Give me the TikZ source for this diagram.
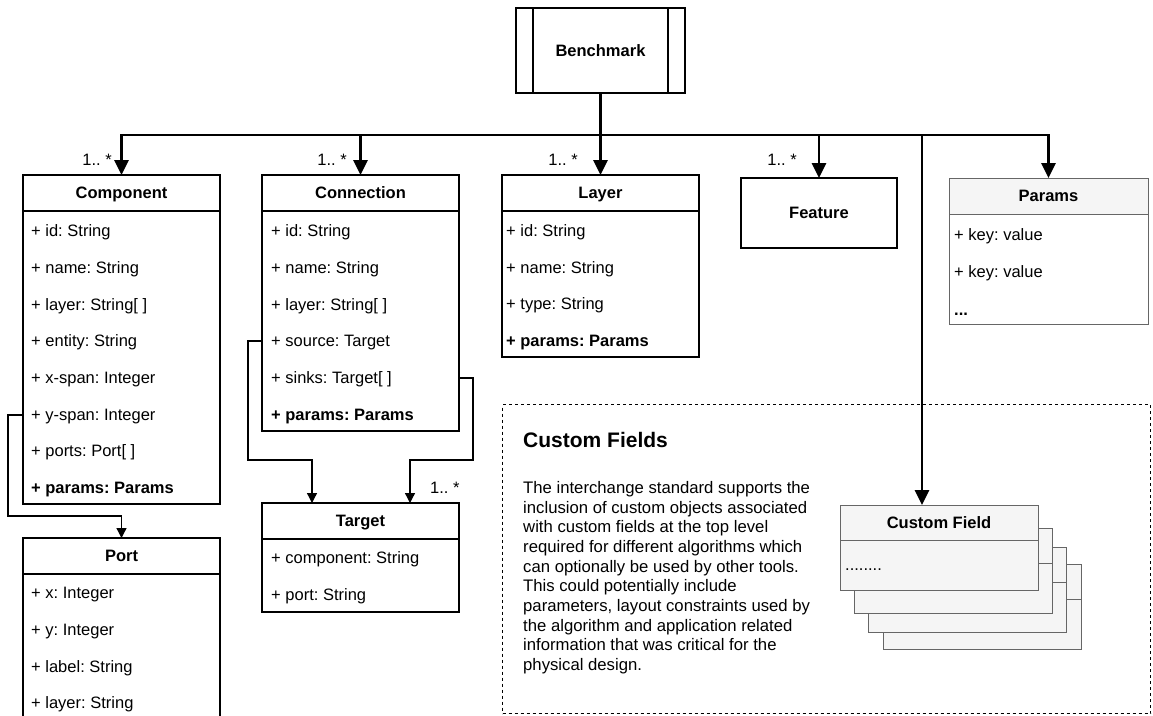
\documentclass[tikz,border=0pt]{standalone}
\usepackage{fontspec}
\setmainfont{Liberation Sans}
\usetikzlibrary{arrows.meta}
\usetikzlibrary{positioning}
\usetikzlibrary{calc}
\frenchspacing

\definecolor{paleline}{HTML}{666666}
\definecolor{palefill}{HTML}{F5F5F5}

\tikzset{
head/.style = {draw, line width=1.3pt, inner sep=0pt, outer sep=0pt, minimum height=36,
               text height=11.8pt, text depth=0pt,
               font=\fontsize{16.5}{19.8}\selectfont\bfseries},
body/.style = {draw, line width=1.3pt, inner sep=0pt, outer sep=0pt},
pale/.style = {draw=paleline, line width=1pt},
field/.style = {anchor=west, inner sep=0pt, text height=11.8pt, text depth=0pt,
                font=\fontsize{16.5}{19.8}\selectfont},
mult/.style = {inner sep=0pt, text height=11.8pt, text depth=0pt,
               font=\fontsize{16.5}{19.8}\selectfont},
busline/.style = {line width=2.8pt},
bus/.style = {busline, -{Triangle[length=15pt, width=14pt]}},
link/.style = {line width=1.3pt, -{Triangle[length=10pt, width=10pt]}}
}

% class box: title row plus an empty body below it
\newcommand{\umlclass}[6][]{%
  \node[head, #1, minimum width=#4, anchor=north west] (#2) at (#3) {#6};
  \node[body, #1, minimum width=#4, minimum height=#5, anchor=north] (#2-b) at (#2.south) {};}
\newcommand{\attr}[3]{\node[field] (#1) at (#2) {#3};}

\begin{document}
\begin{tikzpicture}[x=1pt, y=-1pt]
    \useasboundingbox (0,0) rectangle (1153,715);

    \node[head, minimum width=169, minimum height=85] (bench) at (600.5,50.5) {Benchmark};
    \draw[line width=1.3pt] ([xshift=17pt]bench.north west) -- ([xshift=17pt]bench.south west);
    \draw[line width=1.3pt] ([xshift=-17pt]bench.north east) -- ([xshift=-17pt]bench.south east);

    % Component
    \umlclass{comp}{23,175}{197}{293}{Component}
    \attr{comp-id}{31,231}{+ id: String}
    \attr{comp-name}{31,268}{+ name: String}
    \attr{comp-lay}{31,305}{+ layer: String[ ]}
    \attr{comp-ent}{31,341}{+ entity: String}
    \attr{comp-xsp}{31,378}{+ x-span: Integer}
    \attr{comp-ysp}{31,415}{+ y-span: Integer}
    \attr{comp-ports}{31,451}{+ ports: Port[ ]}
    \attr{comp-par}{31,488}{\bfseries + params: Params}

    % Connection
    \umlclass{conn}{262,175}{197}{220}{Connection}
    \attr{conn-id}{271,231}{+ id: String}
    \attr{conn-name}{271,268}{+ name: String}
    \attr{conn-lay}{271,305}{+ layer: String[ ]}
    \attr{conn-src}{271,341}{+ source: Target}
    \attr{conn-snk}{271,378}{+ sinks: Target[ ]}
    \attr{conn-par}{271,415}{\bfseries + params: Params}

    % Layer
    \umlclass{layer}{502,175}{197}{146}{Layer}
    \attr{layer-id}{506,231}{+ id: String}
    \attr{layer-name}{506,268}{+ name: String}
    \attr{layer-type}{506,304}{+ type: String}
    \attr{layer-par}{506,341}{\bfseries + params: Params}

    \node[head, minimum width=156, minimum height=70] (feature) at (819,213) {Feature};

    % Params
    \node[head, pale, fill=palefill, minimum width=199, anchor=north west] (params) at (949,178) {Params};
    \node[body, pale, minimum width=199, minimum height=110, anchor=north] (params-b) at (params.south) {};
    \attr{params-k1}{954,235}{+ key: value}
    \attr{params-k2}{954,272}{+ key: value}
    \attr{params-more}{954,310}{\bfseries ...}

    % Target and Port
    \umlclass{tgt}{262,503}{197}{73}{Target}
    \attr{tgt-comp}{271,558}{+ component: String}
    \attr{tgt-port}{271,595}{+ port: String}

    \umlclass{port}{23,538}{197}{220}{Port}
    \attr{port-x}{31,593}{+ x: Integer}
    \attr{port-y}{31,630}{+ y: Integer}
    \attr{port-lab}{31,667}{+ label: String}
    \attr{port-lay}{31,703}{+ layer: String}

    % custom fields
    \node[draw, dash pattern=on 3pt off 3pt, line width=1pt, minimum width=648, minimum height=309,
          anchor=north west] (extras) at (502,404) {};
    \node[anchor=west, inner sep=0pt, font=\fontsize{21}{25}\selectfont\bfseries] (extras-title) at (523,440) {Custom Fields};
    \node[anchor=north west, align=left, inner sep=0pt, font=\fontsize{16.7}{19.7}\selectfont] (extras-text) at (523,481)
        {The interchange standard supports the\\
         inclusion of custom objects associated\\
         with custom fields at the top level\\
         required for different algorithms which\\
         can optionally be used by other tools.\\
         This could potentially include\\
         parameters, layout constraints used by\\
         the algorithm and application related\\
         information that was critical for the\\
         physical design.};

    \umlclass[pale, fill=palefill, minimum height=35]{cf3}{883,564}{198}{50}{}
    \umlclass[pale, fill=palefill, minimum height=35]{cf2}{868,547}{198}{50}{}
    \umlclass[pale, fill=palefill, minimum height=35]{cf1}{854,528}{198}{50}{}
    \umlclass[pale, fill=palefill, minimum height=35]{cf}{840,505}{198}{50}{Custom Field}
    \attr{cf-dots}{845,565}{........}

    % bus from the benchmark
    \coordinate (bus) at (600,135);
    \draw[busline] (bench) -- (bench |- bus);
    \draw[busline, {Triangle[length=15pt, width=14pt]}-{Triangle[length=15pt, width=14pt]}]
        (comp) -- (comp |- bus) -- (params |- bus) -- (params);
    \draw[bus] (conn |- bus) -- (conn);
    \draw[bus] (layer |- bus) -- (layer);
    \draw[bus] (feature |- bus) -- (feature);
    \coordinate (cf-in) at ([xshift=82pt]cf.north west);
    \draw[bus] (cf-in |- bus) -- (cf-in);

    \node[mult, anchor=east] (comp-m) at (112,160) {1.. *};
    \node[mult, anchor=east] (conn-m) at (347,160) {1.. *};
    \node[mult, anchor=east] (layer-m) at (578,160) {1.. *};
    \node[mult, anchor=east] (feature-m) at (797,160) {1.. *};

    % references between classes
    \coordinate (tgt-in1) at ([xshift=50pt]tgt.north west);
    \coordinate (tgt-in2) at ([xshift=148pt]tgt.north west);
    \draw[link] (conn-src -| conn-b.west) -- ++(-14,0) -- ++(0,119) -| (tgt-in1);
    \draw[link] (conn-snk -| conn-b.east) -- ++(14,0) -- ++(0,82) -| (tgt-in2);
    \node[mult, anchor=west] (tgt-m) at (430,488) {1.. *};

    \draw[link] (comp-ysp -| comp-b.west) -- ++(-15,0) -- ++(0,101) -| (port);
\end{tikzpicture}
\end{document}
